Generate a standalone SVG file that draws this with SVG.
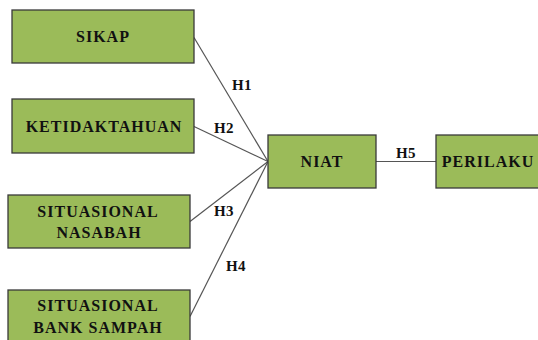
<svg xmlns="http://www.w3.org/2000/svg" width="538" height="340" viewBox="0 0 538 340">
<style>
.box{fill:#9bbb59;stroke:#3a3a3a;stroke-width:1.3}
.t{font-family:"Liberation Serif","Times New Roman",serif;font-weight:bold;font-size:16px;fill:#111;text-anchor:middle;letter-spacing:1px}
.h{font-family:"Liberation Serif","Times New Roman",serif;font-weight:bold;font-size:15px;fill:#111;text-anchor:middle;letter-spacing:0.5px}
.c{stroke:#555;stroke-width:1.2;fill:none}
</style>
<rect width="538" height="340" fill="#fff"/>
<g id="connectors">
<line class="c" x1="194" y1="37.5" x2="268" y2="161.5"/>
<line class="c" x1="194" y1="126.5" x2="268" y2="161.5"/>
<line class="c" x1="190" y1="221.5" x2="268" y2="161.5"/>
<line class="c" x1="190" y1="316.5" x2="268" y2="161.5"/>
<line class="c" x1="376" y1="161.5" x2="436" y2="161.5"/>
<text class="h" x="242" y="90">H1</text>
<text class="h" x="224" y="133">H2</text>
<text class="h" x="224" y="216">H3</text>
<text class="h" x="236" y="271">H4</text>
<text class="h" x="406" y="158">H5</text>
</g>
<g id="sikap"><rect class="box" x="12" y="10" width="182" height="53"/><text class="t" x="103" y="42">SIKAP</text></g>
<g id="ketidaktahuan"><rect class="box" x="12" y="99" width="182" height="54"/><text class="t" x="104" y="132">KETIDAKTAHUAN</text></g>
<g id="nasabah"><rect class="box" x="8" y="195" width="182" height="53"/><text class="t" x="98" y="217">SITUASIONAL</text><text class="t" x="99" y="238">NASABAH</text></g>
<g id="bank"><rect class="box" x="8" y="290" width="182" height="60"/><text class="t" x="98" y="311">SITUASIONAL</text><text class="t" x="98" y="333">BANK SAMPAH</text></g>
<g id="niat"><rect class="box" x="268" y="135" width="108" height="53"/><text class="t" x="322" y="167">NIAT</text></g>
<g id="perilaku"><rect class="box" x="436" y="135" width="110" height="53"/><text class="t" x="488" y="167">PERILAKU</text></g>
</svg>
